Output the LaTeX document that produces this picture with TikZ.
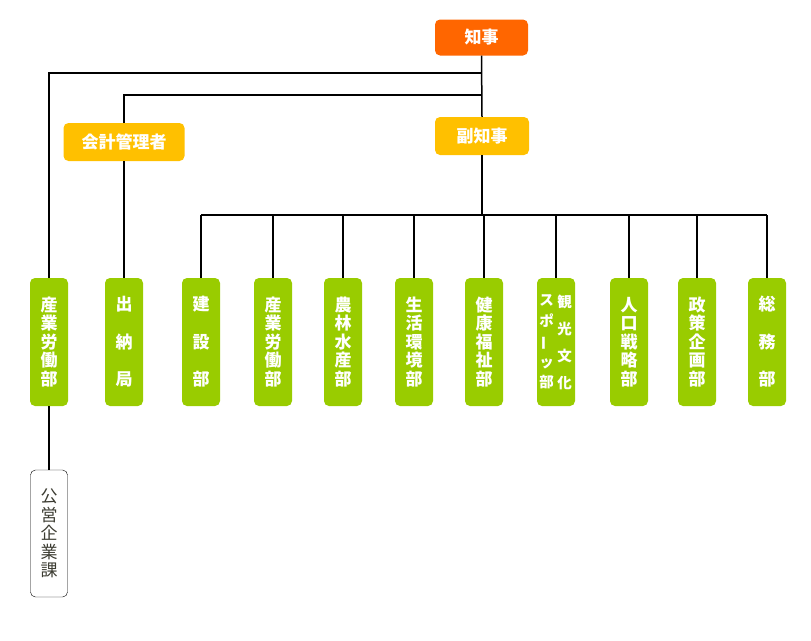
\documentclass[tikz,border=0pt]{standalone}
\usepackage{fontspec}
\usepackage{graphicx}
\newfontfamily\jpfont{Noto Sans CJK JP}
\usetikzlibrary{positioning}
\definecolor{chijiorange}{RGB}{255,102,0}
\definecolor{fukuyellow}{RGB}{255,192,0}
\definecolor{bugreen}{RGB}{153,204,0}
\definecolor{kagray}{RGB}{60,60,50}

\begin{document}
\begin{tikzpicture}[
        x=1pt, y=-1pt,
        box/.style={rounded corners=5pt, fill=#1, text=white, align=center, inner sep=0pt,
            font=\jpfont\bfseries\fontsize{17}{18.5}\selectfont},
        topbox/.style={box=#1, minimum height=36pt},
        dept/.style={box=bugreen, minimum width=38pt, minimum height=128pt},
        link/.style={line width=1.5pt}
    ]
        \useasboundingbox (0,0) rectangle (811,640);

        % Top
        \node[topbox=chijiorange, minimum width=93pt] (chiji) at (481.5,37.5) {知事};
        \node[topbox=fukuyellow, minimum width=94pt, minimum height=38pt] (fuku) at (482,136) {副知事};
        \node[topbox=fukuyellow, minimum width=121pt, minimum height=38pt] (kaikei) at (124,142) {会計管理者};

        % Departments
        \node[dept] (sangyo1) at (49,342) {産\\業\\労\\働\\部};
        \node[dept] (suito) at (124,342) {出\\[19pt]納\\[19pt]局};
        \node[dept] (kensetsu) at (201,342) {建\\[19pt]設\\[19pt]部};
        \node[dept] (sangyo2) at (273,342) {産\\業\\労\\働\\部};
        \node[dept] (norin) at (343,342) {農\\林\\水\\産\\部};
        \node[dept] (seikatsu) at (414,342) {生\\活\\環\\境\\部};
        \node[dept] (kenko) at (484,342) {健\\康\\福\\祉\\部};
        \node[dept] (kanko) at (556,342) {};
        \node[dept] (jinko) at (629,342) {人\\口\\戦\\略\\部};
        \node[dept] (seisaku) at (697,342) {政\\策\\企\\画\\部};
        \node[dept] (somu) at (767,342) {総\\[19pt]務\\[19pt]部};

        % Kanko bunka sports: two columns
        \node[text=white, align=center, font=\jpfont\bfseries\fontsize{14.5}{20.5}\selectfont]
            (kankoR) at ([xshift=8.5pt]kanko.center) {観\\[6.5pt]光\\[6.5pt]文\\[6.5pt]化};
        \node[text=white, align=center, font=\jpfont\bfseries\fontsize{14.5}{20.5}\selectfont]
            (kankoL) at ([xshift=-9.5pt]kanko.center) {ス\\ポ\\\rotatebox[origin=c]{90}{ー}\\ッ\\部};

        % Koei kigyo
        \node[draw, thin, rounded corners=5pt, fill=white, text=kagray, align=center, inner sep=0pt,
            minimum width=37pt, minimum height=127pt, font=\jpfont\fontsize{17}{18.5}\selectfont]
            (koei) at (49,533.5) {公\\営\\企\\業\\課};

        % Branch points
        \coordinate (b1) at (482,73);
        \coordinate (b2) at (482,95);
        \coordinate (bus) at (482,215);

        % Lines
        \draw[link] (chiji.south) -- (fuku.north);
        \draw[link] (sangyo1.north) |- (b1);
        \draw[link] (kaikei.north) |- (b2);
        \draw[link] (kaikei.south) -- (suito.north);
        \draw[link] (sangyo1.south) -- (koei.north);
        \draw[link] (fuku.south) -- (bus);
        \draw[link] (kensetsu.north |- bus) -- (somu.north |- bus);
        \foreach \d in {kensetsu, sangyo2, norin, seikatsu, kenko, kanko, jinko, seisaku, somu} {
            \draw[link] (\d.north |- bus) -- (\d.north);
        }

    \end{tikzpicture}
\end{document}
